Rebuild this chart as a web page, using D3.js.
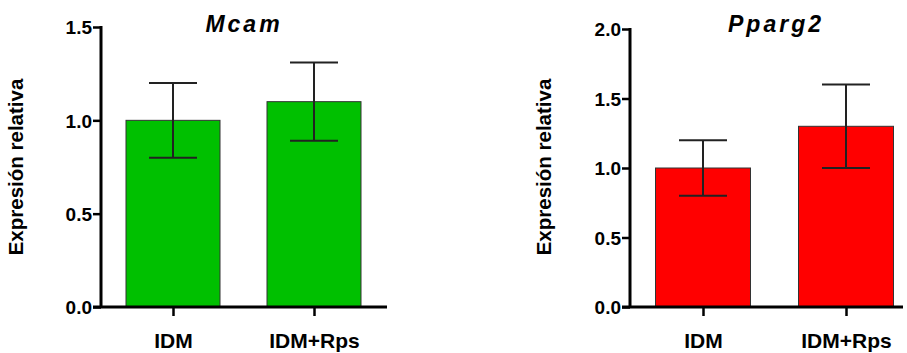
<!DOCTYPE html>
<html>
<head>
<meta charset="utf-8">
<script src="https://cdn.jsdelivr.net/npm/d3@7"></script>
<style>
  body { margin: 0; background: #fff; }
  text { font-family: Arial, "Liberation Sans", sans-serif; font-weight: bold; }
</style>
</head>
<body>
<script>
// chart data
var groups = ['IDM', 'IDM+Rps'];
var mcam_values = [1.0, 1.1];
var mcam_errors = [0.2, 0.21];
var pparg_values = [1.0, 1.3];
var pparg_errors = [0.2, 0.3];
var mcam_ticks = [0.0, 0.5, 1.0, 1.5];
var pparg_ticks = [0.0, 0.5, 1.0, 1.5, 2.0];

var svg = d3.select('body').append('svg').attr('width', 907).attr('height', 353);

function draw_panel(opts) {
	var g = svg.append('g');

	var yScale = d3.scaleLinear()
					.domain([0, opts.ymax])
					.range([307, opts.ytop]);

	var xScale = d3.scalePoint()
					.domain(groups)
					.range([opts.x0, opts.x1]);

	g.selectAll('.bar')
		.data(opts.values)
		.enter()
		.append('rect')
		.attr('x', function(d, i){ return xScale(groups[i]) - opts.bw/2 })
		.attr('y', function(d){ return yScale(d) })
		.attr('width', opts.bw)
		.attr('height', function(d){ return 307 - yScale(d) })
		.attr('fill', opts.color)
		.attr('stroke', '#333')
		.attr('stroke-width', 1);

	// error bars
	opts.values.forEach(function(v, i) {
		var cx = xScale(groups[i]), e = opts.errors[i];
		g.append('line').attr('x1', cx).attr('x2', cx)
			.attr('y1', yScale(v - e)).attr('y2', yScale(v + e))
			.attr('stroke', '#222').attr('stroke-width', 2);
		[v - e, v + e].forEach(function(yv) {
			g.append('line').attr('x1', cx - 24).attr('x2', cx + 24)
				.attr('y1', yScale(yv)).attr('y2', yScale(yv))
				.attr('stroke', '#222').attr('stroke-width', 2);
		});
	});

	// y axis
	var yAxis = d3.axisLeft(yScale).tickValues(opts.ticks).tickFormat(d3.format('.1f')).tickSize(8).tickSizeOuter(0);
	var ya = g.append('g').attr('transform', 'translate(' + opts.axisx + ',0)').call(yAxis);
	ya.attr('font-size', null).attr('font-family', null);
	ya.select('.domain').attr('stroke', '#000').attr('stroke-width', 3)
		.attr('d', 'M0,' + (yScale(opts.ymax) - 1) + 'V308');
	ya.selectAll('.tick line').attr('stroke', '#000').attr('stroke-width', 2.5);
	ya.selectAll('.tick text').style('font-size', '19px').attr('fill', '#000').attr('x', -9).attr('dy', '0.36em');

	// x axis
	var xAxis = d3.axisBottom(xScale).tickSize(9).tickSizeOuter(0);
	var xa = g.append('g').attr('transform', 'translate(0,307)').call(xAxis);
	xa.attr('font-size', null).attr('font-family', null);
	xa.select('.domain').attr('stroke', '#000').attr('stroke-width', 3)
		.attr('d', 'M' + (opts.axisx - 8) + ',0H' + opts.xend);
	xa.selectAll('.tick line').attr('stroke', '#000').attr('stroke-width', 2.5);
	xa.selectAll('.tick text').style('font-size', '21px').attr('fill', '#000').attr('y', 41).attr('dy', 0);

	// title
	g.append('text').text(opts.title)
		.attr('x', opts.titlex).attr('y', 32)
		.attr('text-anchor', 'middle').style('font-size', '23px').style('font-style', 'italic')
		.style('letter-spacing', '3px')
		.attr('fill', '#000');

	// y label
	g.append('text').text('Expresión relativa')
		.attr('transform', 'translate(' + opts.labelx + ',167) rotate(-90)')
		.attr('text-anchor', 'middle').style('font-size', '20.5px').attr('fill', '#000');
}

draw_panel({
	values: mcam_values, errors: mcam_errors, ticks: mcam_ticks, ymax: 1.5, ytop: 27,
	x0: 173, x1: 314, bw: 94, axisx: 101, xend: 387, color: '#00c000',
	title: 'Mcam', titlex: 244, labelx: 23
});

draw_panel({
	values: pparg_values, errors: pparg_errors, ticks: pparg_ticks, ymax: 2.0, ytop: 29,
	x0: 703, x1: 846, bw: 95, axisx: 630, xend: 903, color: '#ff0000',
	title: 'Pparg2', titlex: 776, labelx: 551
});
</script>
</body>
</html>
